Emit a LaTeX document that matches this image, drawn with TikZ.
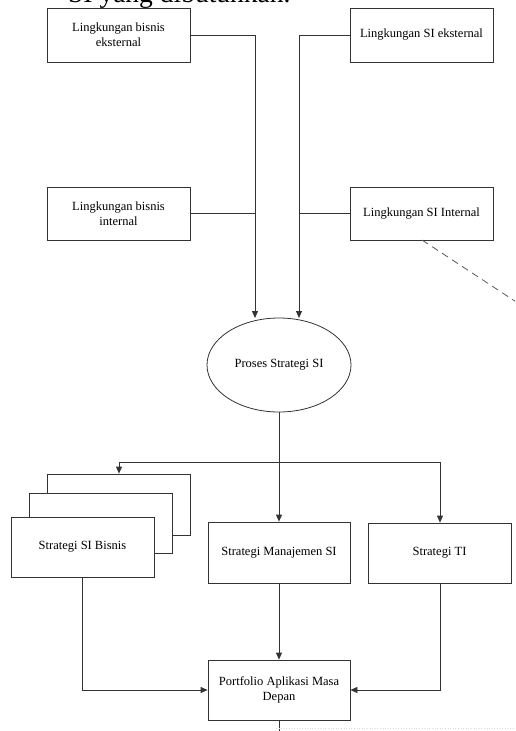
\documentclass[tikz,border=0pt]{standalone}
\usepackage{fontspec}
\setmainfont{Liberation Serif}
\usetikzlibrary{shapes.geometric,arrows.meta}
\begin{document}
\begin{tikzpicture}[x=1pt,y=-1pt,
  ln/.style={draw=black!80,line width=0.8pt},
  arr/.style={ln,-{Triangle[length=7pt,width=6pt]}},
  box/.style={ln,fill=white,rectangle,minimum width=143pt,minimum height=54pt,inner sep=0pt,align=center,font=\fontsize{12.5}{15}\selectfont},
  oval/.style={ln,fill=white,ellipse,minimum width=144pt,minimum height=94pt,inner sep=0pt,font=\fontsize{12.5}{15}\selectfont}]
\clip (0,0) rectangle (515,731);
\fill[white] (0,0) rectangle (515,731);
% cut-off heading
\node[anchor=base west,inner sep=0pt,font=\fontsize{27.5}{30}\selectfont] (head) at (68,2.5) {SI yang dibutuhkan.};
% top boxes
\node[box] (b1) at (118.5,35) {Lingkungan bisnis\\eksternal};
\node[box] (b2) at (421.5,35) {Lingkungan SI eksternal};
\node[box,minimum height=53pt] (b3) at (118.5,213.5) {Lingkungan bisnis\\internal};
\node[box,minimum height=53pt] (b4) at (421.5,213.5) {Lingkungan SI Internal};
% ellipse
\node[oval] (e) at (279,365) {Proses Strategi SI};
\coordinate (in1) at (255,318);
\coordinate (in2) at (299,318);
\draw[arr] (b1.east) -| (in1);
\draw[arr] (b2.west) -| (in2);
\draw[ln] (b3.east) -- (b3.east -| in1);
\draw[ln] (b4.west) -- (b4.west -| in2);
\coordinate (dend) at (530,311);
\draw[ln,dashed,dash pattern=on 7pt off 5pt,draw=black!65] (422,240) -- (dend);
% stacked boxes
\node[box,minimum height=61pt] (s3) at (118.5,504.5) {};
\node[box,minimum height=60pt] (s2) at (100.5,523) {};
\node[box,minimum height=60pt] (s1) at (82.5,547) {Strategi SI Bisnis};
\node[box,minimum width=142pt,minimum height=61pt] (m) at (279,552.5) {Strategi Manajemen SI};
\node[box,minimum height=60pt] (t) at (439.5,553) {Strategi TI};
\node[box,minimum width=142pt,minimum height=60pt] (p) at (279,690) {Portfolio Aplikasi Masa\\Depan};
% split
\coordinate (split) at (279,462);
\coordinate (lsplit) at (119,462);
\coordinate (rsplit) at (440,462);
\draw[ln] (e.south) -- (split);
\draw[ln] (lsplit) -- (rsplit);
\draw[arr] (lsplit) -- (lsplit |- s3.north);
\draw[arr] (split) -- (m.north);
\draw[arr] (rsplit) -- (rsplit |- t.north);
% to portfolio
\draw[arr] (s1.south) |- (p.west);
\draw[arr] (m.south) -- (p.north);
\draw[arr] (t.south -| rsplit) |- (p.east);
\coordinate (pend) at (279,735);
\draw[ln] (p.south) -- (pend);
\coordinate (fa) at (276,728);
\coordinate (fb) at (515,728);
\draw[black!15,line width=0.6pt,dotted] (fa) -- (fb);
\end{tikzpicture}
\end{document}
